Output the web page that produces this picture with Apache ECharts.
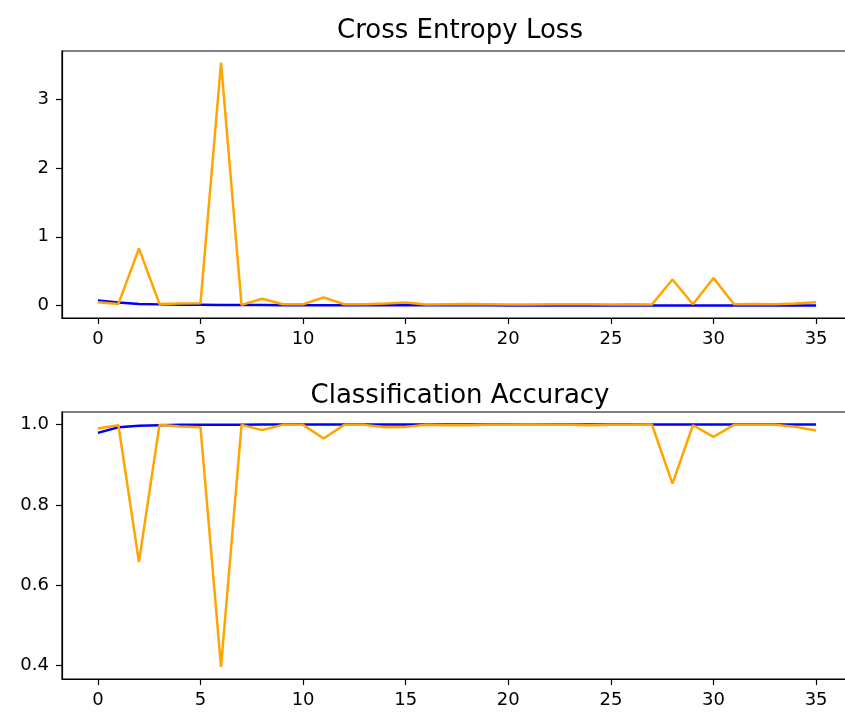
<!DOCTYPE html>
<html>
<head>
<meta charset="utf-8">
<script src="https://cdn.jsdelivr.net/npm/echarts@6/dist/echarts.min.js"></script>
<style>
  html, body { margin: 0; padding: 0; background: #fff; }
  #chart { width: 845px; height: 714px; }
</style>
</head>
<body>
<div id="chart"></div>
<script>
// Training history: one entry per epoch
const epochs = [0,1,2,3,4,5,6,7,8,9,10,11,12,13,14,15,16,17,18,19,20,21,22,23,24,25,26,27,28,29,30,31,32,33,34,35];

const trainLoss = [0.075,0.045,0.025,0.018,0.014,0.012,0.010,0.009,0.008,0.007,0.006,0.006,0.005,0.005,0.005,0.004,0.004,0.004,0.004,0.004,0.003,0.003,0.003,0.003,0.003,0.003,0.003,0.003,0.003,0.003,0.003,0.003,0.003,0.003,0.003,0.003];
const valLoss = [0.05,0.025,0.83,0.025,0.03,0.035,3.53,0.01,0.10,0.02,0.02,0.12,0.02,0.02,0.03,0.045,0.015,0.02,0.025,0.02,0.015,0.015,0.02,0.02,0.02,0.015,0.02,0.015,0.38,0.02,0.40,0.02,0.025,0.02,0.03,0.05];

const trainAcc = [0.979,0.993,0.997,0.998,0.999,0.999,0.999,0.9995,1.0,1.0,1.0,1.0,1.0,1.0,1.0,1.0,1.0,1.0,1.0,1.0,1.0,1.0,1.0,1.0,1.0,1.0,1.0,1.0,1.0,1.0,1.0,1.0,1.0,1.0,1.0,1.0];
const valAcc = [0.990,0.998,0.658,0.999,0.995,0.993,0.397,0.999,0.986,0.999,0.999,0.965,0.999,0.999,0.993,0.994,0.999,0.998,0.998,0.999,0.999,1.0,0.999,0.999,0.998,0.999,0.999,1.0,0.853,0.998,0.969,0.999,0.999,0.999,0.994,0.985];

const epochTicks = [0,5,10,15,20,25,30,35];
const lossTicks = [0,1,2,3];
const accTicks = [0.4,0.6,0.8,1.0];

const titles = ['Cross Entropy Loss', 'Classification Accuracy'];

const FONT = 'DejaVu Sans';
const TRAIN_COLOR = '#0000ff';
const VAL_COLOR = '#ffa500';

const pairs = (ys) => epochs.map((e, i) => [e, ys[i]]);

function xAxisFor(gridIndex) {
  return {
    type: 'value', gridIndex, min: -1.75, max: 36.75,
    axisLine: { show: true, onZero: false, lineStyle: { color: '#000', width: 1.2 } },
    axisTick: { show: true, length: 6, customValues: epochTicks, lineStyle: { color: '#000', width: 1.2 } },
    axisLabel: { customValues: epochTicks, margin: 12, color: '#000', fontFamily: FONT, fontSize: 18 },
    splitLine: { show: false }
  };
}

function yAxisFor(gridIndex, min, max, ticks, fmt) {
  return {
    type: 'value', gridIndex, min, max,
    axisLine: { show: true, onZero: false, lineStyle: { color: '#000', width: 1.2 } },
    axisTick: { show: true, length: 6, customValues: ticks, lineStyle: { color: '#000', width: 1.2 } },
    axisLabel: { customValues: ticks, margin: 13, color: '#000', fontFamily: FONT, fontSize: 18, formatter: fmt },
    splitLine: { show: false }
  };
}

const lineSeries = (name, ys, color, idx) => ({
  name, type: 'line', xAxisIndex: idx, yAxisIndex: idx,
  data: pairs(ys), showSymbol: false, symbol: 'none',
  lineStyle: { color, width: 2.5 }, itemStyle: { color },
  animation: false
});

const gridBase = { left: 62, width: 790, height: 267, show: true, borderColor: '#000', borderWidth: 1.2,
  backgroundColor: '#fff', outerBoundsMode: 'none', containLabel: false };

const chart = echarts.init(document.getElementById('chart'), null, { renderer: 'canvas' });
chart.setOption({
  backgroundColor: '#fff',
  animation: false,
  title: [
    { text: titles[0], left: 455, top: 26, textAlign: 'center', textVerticalAlign: 'middle',
      textStyle: { fontFamily: FONT, fontSize: 26, fontWeight: 'normal', color: '#000' } },
    { text: titles[1], left: 455, top: 391, textAlign: 'center', textVerticalAlign: 'middle',
      textStyle: { fontFamily: FONT, fontSize: 26, fontWeight: 'normal', color: '#000' } }
  ],
  grid: [
    Object.assign({ top: 51 }, gridBase),
    Object.assign({ top: 412 }, gridBase)
  ],
  xAxis: [xAxisFor(0), xAxisFor(1)],
  yAxis: [
    yAxisFor(0, -0.18, 3.70, lossTicks, (v) => String(Math.round(v))),
    yAxisFor(1, 0.367, 1.031, accTicks, (v) => v.toFixed(1))
  ],
  series: [
    lineSeries('train loss', trainLoss, TRAIN_COLOR, 0),
    lineSeries('val loss', valLoss, VAL_COLOR, 0),
    lineSeries('train accuracy', trainAcc, TRAIN_COLOR, 1),
    lineSeries('val accuracy', valAcc, VAL_COLOR, 1)
  ]
});
</script>
</body>
</html>
